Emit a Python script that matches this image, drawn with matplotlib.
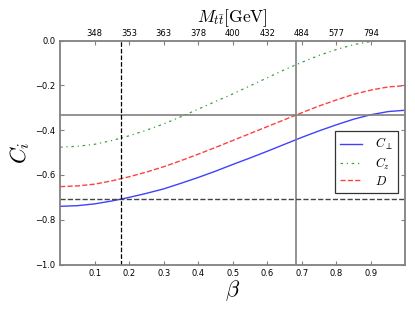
import numpy as np
import matplotlib
matplotlib.use('Agg')
import matplotlib.pyplot as plt

plt.rcParams['mathtext.fontset'] = 'cm'
plt.rcParams['font.family'] = 'DejaVu Sans'

# values
beta = [0.00, 0.05, 0.10, 0.15, 0.20, 0.25, 0.30, 0.35, 0.40, 0.45, 0.50,
        0.55, 0.60, 0.65, 0.70, 0.75, 0.80, 0.85, 0.90, 0.95, 1.00]
c_perp = [-0.740, -0.737, -0.729, -0.716, -0.700, -0.682, -0.662, -0.637, -0.611, -0.583, -0.553,
          -0.524, -0.494, -0.463, -0.432, -0.403, -0.376, -0.351, -0.331, -0.317, -0.311]
c_z = [-0.476, -0.472, -0.463, -0.446, -0.425, -0.400, -0.372, -0.340, -0.306, -0.272, -0.238,
       -0.202, -0.166, -0.130, -0.097, -0.066, -0.040, -0.018, -0.004, 0.006, 0.012]
d_vals = [-0.652, -0.649, -0.641, -0.626, -0.608, -0.587, -0.563, -0.536, -0.507, -0.477, -0.446,
          -0.415, -0.384, -0.353, -0.322, -0.292, -0.265, -0.240, -0.221, -0.207, -0.201]

beta_ticks = [0.1, 0.2, 0.3, 0.4, 0.5, 0.6, 0.7, 0.8, 0.9]
mass_labels = ['348', '353', '363', '378', '400', '432', '484', '577', '794']
y_ticks = [-1.0, -0.8, -0.6, -0.4, -0.2, 0.0]

beta_low = 0.175
beta_high = 0.683
h_solid = -1.0 / 3.0
h_dashed = -0.707

fig = plt.figure(figsize=(4.15, 3.12), dpi=100)
ax = fig.add_axes([0.145, 0.152, 0.832, 0.718])

ax.plot(beta, c_perp, '-', color='blue', alpha=0.75, lw=1.0, label=r'$C_\perp$')
ax.plot(beta, c_z, '-.', color='green', alpha=0.75, lw=0.9, dashes=(2, 3, 1, 3), label=r'$C_z$')
ax.plot(beta, d_vals, '--', color='red', alpha=0.75, lw=1.0, label=r'$D$')

ax.axhline(h_solid, color='gray', lw=1.2)
ax.axvline(beta_high, color='gray', lw=1.2)
ax.axhline(h_dashed, color='#444444', ls='--', lw=1.0)
ax.axvline(beta_low, color='black', ls='--', lw=0.9)

ax.set_xlim(0, 1)
ax.set_ylim(-1, 0)
ax.set_xticks(beta_ticks)
ax.set_yticks(y_ticks)
ax.set_xticklabels([str(b) for b in beta_ticks])
ax.set_yticklabels(['\u22121.0', '\u22120.8', '\u22120.6', '\u22120.4', '\u22120.2', '0.0'])
ax.tick_params(direction='in', labelsize=6, color='gray', length=3, right=True)
for s in ax.spines.values():
    s.set_color('gray')
    s.set_linewidth(1.3)

ax.set_xlabel(r'$\beta$', fontsize=16, labelpad=0)
ax.set_ylabel(r'$C_i$', fontsize=16, labelpad=2)

ax2 = ax.twiny()
ax2.set_xlim(0, 1)
ax2.set_xticks(beta_ticks)
ax2.set_xticklabels(mass_labels)
ax2.tick_params(direction='in', labelsize=6, color='gray', length=3, pad=2)
ax2.set_xlabel(r'$M_{t\bar{t}}[\mathrm{GeV}]$', fontsize=12.5, labelpad=5)
for s in ax2.spines.values():
    s.set_visible(False)

leg = ax.legend(loc='lower right', bbox_to_anchor=(0.978, 0.321), fontsize=9,
                fancybox=False, edgecolor='black', handlelength=1.8, borderpad=0.4,
                labelspacing=0.25, handletextpad=1.0, borderaxespad=0)
leg.get_frame().set_linewidth(0.9)

fig.savefig('out.png', dpi=100)
